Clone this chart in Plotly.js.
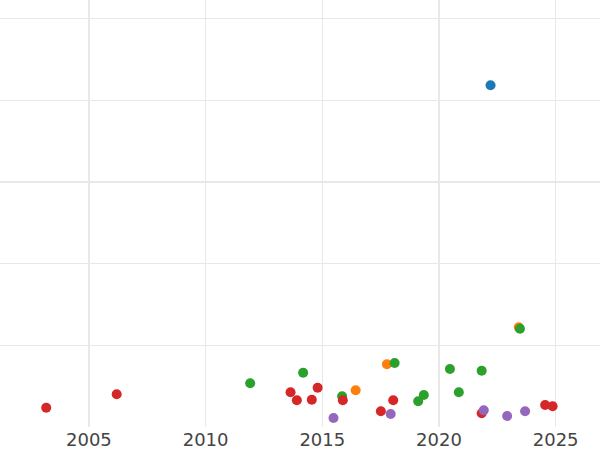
<!DOCTYPE html>
<html>
<head>
<meta charset="utf-8">
<script src="https://cdn.plot.ly/plotly-3.0.1.min.js"></script>
<style>html,body{margin:0;padding:0;background:#fff;}#chart{width:600px;height:450px;}</style>
</head>
<body>
<div id="chart"></div>
<script>
// Series values (x = year, y = arbitrary units; y labels not shown)
const blueX = [2022.21];
const blueY = [418.3];

const orangeX = [2016.43, 2017.77, 2023.42];
const orangeY = [44.9, 76.8, 122.0];

const greenX = [2011.91, 2014.18, 2015.85, 2018.10, 2019.11, 2019.35, 2020.47, 2020.85, 2021.83, 2023.47];
const greenY = [53.5, 66.5, 37.6, 78.3, 31.5, 39.2, 71.0, 42.5, 68.9, 120.3];

const redX = [2003.17, 2006.19, 2013.64, 2013.91, 2014.55, 2014.80, 2015.88, 2017.51, 2018.04, 2021.83, 2024.55, 2024.87];
const redY = [23.6, 40.0, 42.5, 32.8, 33.4, 48.1, 32.7, 19.2, 32.7, 16.8, 26.9, 25.3];

const purpleX = [2015.48, 2017.93, 2021.92, 2022.92, 2023.69];
const purpleY = [11.0, 15.9, 20.4, 13.5, 19.2];

const xTickVals = [2005, 2010, 2015, 2020, 2025];
const xTickText = ["2005", "2010", "2015", "2020", "2025"];
const yTickVals = [100, 200, 300, 400, 500];

const series = [
  {x: blueX, y: blueY, color: "#1f77b4"},
  {x: orangeX, y: orangeY, color: "#ff7f0e"},
  {x: greenX, y: greenY, color: "#2ca02c"},
  {x: redX, y: redY, color: "#d62728"},
  {x: purpleX, y: purpleY, color: "#9467bd"}
];

const traces = series.map(s => ({
  type: "scatter",
  mode: "markers",
  x: s.x,
  y: s.y,
  marker: {color: s.color, size: 10, line: {width: 0}},
  hoverinfo: "x+y"
}));

const layout = {
  width: 600,
  height: 450,
  margin: {l: 0, r: 0, t: 0, b: 23, pad: 0},
  paper_bgcolor: "#ffffff",
  plot_bgcolor: "#ffffff",
  showlegend: false,
  font: {family: "DejaVu Sans", color: "#444444", size: 18},
  xaxis: {
    range: [2001.19, 2026.90],
    tickvals: xTickVals,
    ticktext: xTickText,
    showgrid: true,
    gridcolor: "#e8e8e8",
    gridwidth: 1.3,
    zeroline: false,
    showline: false,
    ticks: "",
    tickfont: {family: "DejaVu Sans", size: 18, color: "#444444"},
    automargin: false
  },
  yaxis: {
    range: [0, 522.7],
    tickvals: yTickVals,
    showticklabels: false,
    showgrid: true,
    gridcolor: "#e8e8e8",
    gridwidth: 1.3,
    zeroline: false,
    showline: false,
    ticks: "",
    automargin: false
  }
};

Plotly.newPlot("chart", traces, layout, {displayModeBar: false, staticPlot: true});
</script>
</body>
</html>
